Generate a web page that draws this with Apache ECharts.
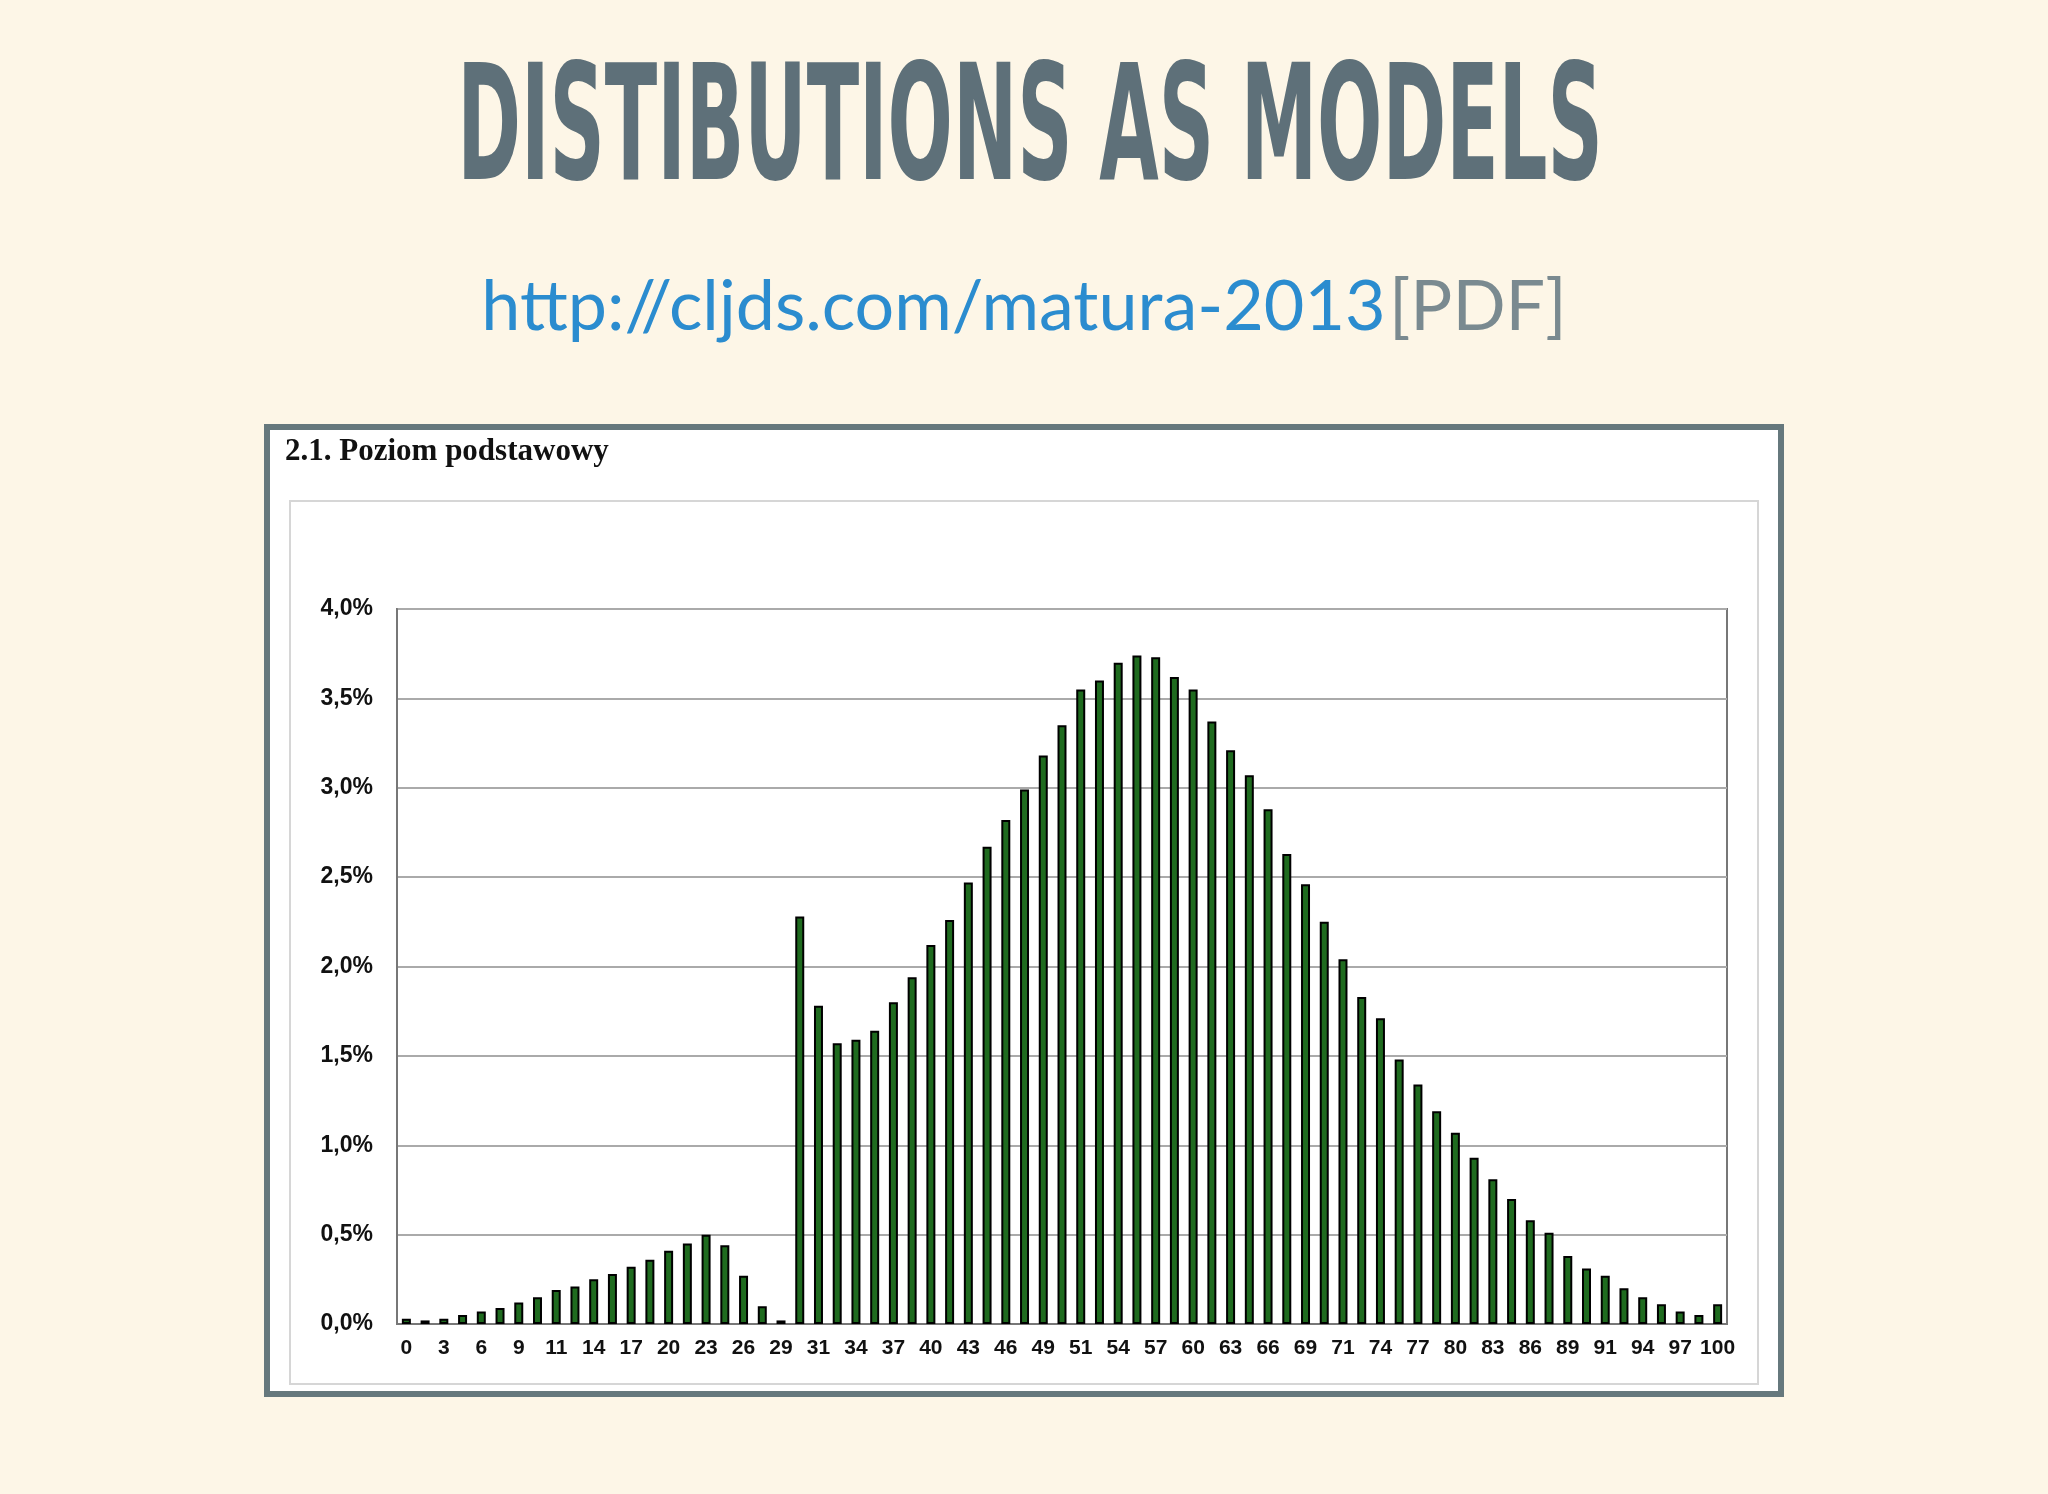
<!DOCTYPE html>
<html>
<head>
<meta charset="utf-8">
<script src="https://cdn.jsdelivr.net/npm/echarts@6/dist/echarts.min.js"></script>
<style>html,body{margin:0;padding:0;background:#fdf6e7}#main{width:2048px;height:1494px}</style>
</head>
<body>
<div id="main"></div>
<script>
// kategorie: wynik w % (0..70 pkt)
var categories = ['0','1','3','4','6','7','9','10','11','13','14','16','17','19','20','21','23','24','26','27','29','30','31','33','34','36','37','39','40','41','43','44','46','47','49','50','51','53','54','56','57','59','60','61','63','64','66','67','69','70','71','73','74','76','77','79','80','81','83','84','86','87','89','90','91','93','94','96','97','99','100'];
// odsetek zdających (%)
var shares = [0.03,0.02,0.03,0.05,0.07,0.09,0.12,0.15,0.19,0.21,0.25,0.28,0.32,0.36,0.41,0.45,0.50,0.44,0.27,0.10,0.02,
    2.28,1.78,1.57,1.59,1.64,1.80,1.94,2.12,2.26,2.47,2.67,2.82,2.99,3.18,3.35,3.55,3.60,3.70,3.74,3.73,3.62,3.55,3.37,3.21,3.07,2.88,2.63,2.46,2.25,2.04,1.83,1.71,1.48,1.34,1.19,1.07,0.93,0.81,0.70,0.58,0.51,0.38,0.31,0.27,0.20,0.15,0.11,0.07,0.05,0.11];

var myChart = echarts.init(document.getElementById('main'));
var option = {
    backgroundColor: '#fdf6e7',
    animation: false,
    graphic: [
        // tytuł - wąska czcionka udawana przez scaleX
        {type: 'text', x: 1030, y: 137, scaleX: 0.48, style: {x: 0, y: 0, text: 'DISTIBUTIONS AS MODELS', align: 'center', verticalAlign: 'middle', font: 'bold 160px "DejaVu Sans", sans-serif', fill: '#5e7079'}},
        {type: 'text', left: 'center', top: 272, style: {rich: {a: {font: '70px Lato, sans-serif', fill: '#2b8ccf'}, b: {font: '70px Lato, sans-serif', fill: '#7a8a90'}}, text: '{a|http://cljds.com/matura-2013} {b|[PDF]}'}},
        {type: 'rect', shape: {x: 267, y: 427, width: 1514, height: 967}, style: {fill: '#fff', stroke: '#66787d', lineWidth: 6}, z: -10},
        {type: 'rect', shape: {x: 290, y: 501, width: 1468, height: 883}, style: {fill: '#fff', stroke: '#d6d6d6', lineWidth: 2}, z: -9},
        {type: 'text', left: 285, top: 436, style: {text: '2.1. Poziom podstawowy', font: 'bold 31px "Liberation Serif", serif', fill: '#111'}}
    ],
    grid: {left: 397, right: 321, top: 609, bottom: 170, show: true, borderColor: '#777', borderWidth: 2},
    xAxis: {
        type: 'category',
        data: categories,
        axisTick: {show: false},
        axisLine: {lineStyle: {color: '#777', width: 2}},
        axisLabel: {interval: 1, color: '#111', fontSize: 21, fontWeight: 'bold', fontFamily: 'Liberation Sans', margin: 14}
    },
    yAxis: {
        type: 'value', min: 0, max: 4, interval: 0.5,
        axisLine: {show: true, lineStyle: {color: '#777', width: 2}},
        axisTick: {show: false},
        splitLine: {lineStyle: {color: '#aaa', width: 2}},
        axisLabel: {color: '#111', fontSize: 23, fontWeight: 'bold', fontFamily: 'Liberation Sans', margin: 24,
            formatter: function (v) { return v.toFixed(1).replace('.', ',') + '%'; }}
    },
    series: [{
        type: 'bar',
        data: shares,
        barWidth: '48%',
        itemStyle: {color: '#1f6b1f', borderColor: '#000', borderWidth: 2}
    }]
};
myChart.setOption(option);
</script>
</body>
</html>
